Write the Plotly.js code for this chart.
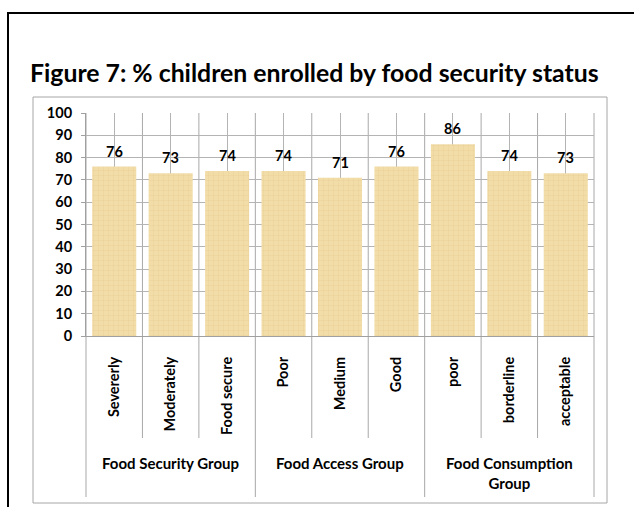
<!DOCTYPE html>
<html>
<head>
<meta charset="utf-8">
<script src="https://cdn.plot.ly/plotly-3.0.1.min.js"></script>
<style>
html,body{margin:0;padding:0;background:#fff;}
#chart{width:634px;height:507px;}
</style>
</head>
<body>
<div id="chart"></div>
<script>
// ---- data ----
var categories = ["Severerly", "Moderately", "Food secure", "Poor", "Medium", "Good", "poor", "borderline", "acceptable"];
var values = [76, 73, 74, 74, 71, 76, 86, 74, 73];
var groupNames = ["Food Security Group", "Food Access Group", "Food Consumption<br>Group"];
var groupSizes = [3, 3, 3];
var yTicks = [0, 10, 20, 30, 40, 50, 60, 70, 80, 90, 100];
var titleText = "Figure 7: % children enrolled by food security status";

// ---- layout geometry (pixels) ----
var FW = 634, FH = 507;
var PL = 86, PR = 594, PT = 113, PB = 336;
var PW = PR - PL, PH = PB - PT;
function px2x(px){ return (px - PL) / PW; }
function py2y(py){ return (PB - py) / PH; }

var FONT = "Lato, 'Open Sans', sans-serif";
var n = categories.length;
var shapes = [];

// outer black frame
shapes.push({type:"rect", xref:"paper", yref:"paper",
  x0:px2x(8), x1:px2x(660), y0:py2y(13), y1:py2y(540),
  line:{color:"#000", width:2}, fillcolor:"rgba(0,0,0,0)", layer:"below"});
// inner chart box
shapes.push({type:"rect", xref:"paper", yref:"paper",
  x0:px2x(33), x1:px2x(607), y0:py2y(97), y1:py2y(503),
  line:{color:"#a6a6a6", width:1}, fillcolor:"rgba(0,0,0,0)", layer:"below"});

// category boundary lines (in plot and separators below axis)
var groupEdges = [0];
groupSizes.reduce(function(acc, s){ acc += s; groupEdges.push(acc); return acc; }, 0);
for (var k = 0; k <= n; k++) {
  var isGroupEdge = groupEdges.indexOf(k) >= 0;
  shapes.push({type:"line", xref:"paper", yref:"paper",
    x0:k/n, x1:k/n, y0:1, y1:py2y(isGroupEdge ? 497 : 438),
    line:{color:"#a8a8a8", width:1}, layer:"below"});
}

var annotations = [];
var start = 0;
groupNames.forEach(function(g, i){
  var c = (start + groupSizes[i]/2) / n;
  annotations.push({xref:"paper", yref:"paper", x:c, y:py2y(i === 2 ? 473 : 463),
    text:"<b>"+g+"</b>", showarrow:false, xanchor:"center", yanchor:"middle",
    font:{family:FONT, size:15, color:"#000"}});
  start += groupSizes[i];
});

// value labels above bars
categories.forEach(function(c, i){
  annotations.push({xref:"x", yref:"y", x:c, y:values[i], text:"<b>"+values[i]+"</b>",
    showarrow:false, xanchor:"center", yanchor:"bottom", yshift:5,
    font:{family:FONT, size:14.5, color:"#000"}});
});

var trace = {
  type:"bar",
  x: categories,
  y: values,
  marker:{
    color:"#F2DCA8",
    line:{width:0},
    pattern:{shape:"+", fgcolor:"#E6CB8E", bgcolor:"#F2DCA8", size:5, solidity:0.12, fillmode:"replace"}
  },
  width:0.78,
  hoverinfo:"none"
};

var layout = {
  width:FW, height:FH,
  margin:{l:PL, r:FW-PR, t:PT, b:FH-PB, pad:0},
  paper_bgcolor:"#fff", plot_bgcolor:"#fff",
  showlegend:false,
  title:{text:"<b>"+titleText+"</b>", xref:"container", yref:"container",
    x:30/FW, xanchor:"left", y:1-73/FH, yanchor:"middle",
    font:{family:FONT, size:24.8, color:"#000"}},
  xaxis:{type:"category", range:[-0.5, n-0.5], showgrid:true, gridcolor:"#b4b4b4", gridwidth:1,
    showline:true, linecolor:"#a0a0a0", ticks:"", tickangle:-90, ticklabelstandoff:14,
    tickfont:{family:FONT, size:14.5, color:"#000", weight:"bold"}, fixedrange:true},
  yaxis:{range:[0,100], tickmode:"array", tickvals:yTicks, showgrid:true, gridcolor:"#b4b4b4",
    zeroline:false, showline:true, linecolor:"#a0a0a0", ticks:"outside", ticklen:4, tickcolor:"#a0a0a0",
    ticklabelstandoff:6, tickfont:{family:FONT, size:14.5, color:"#000", weight:"bold"}, fixedrange:true},
  shapes:shapes,
  annotations:annotations
};

Plotly.newPlot("chart", [trace], layout, {staticPlot:true, displayModeBar:false});
</script>
</body>
</html>
